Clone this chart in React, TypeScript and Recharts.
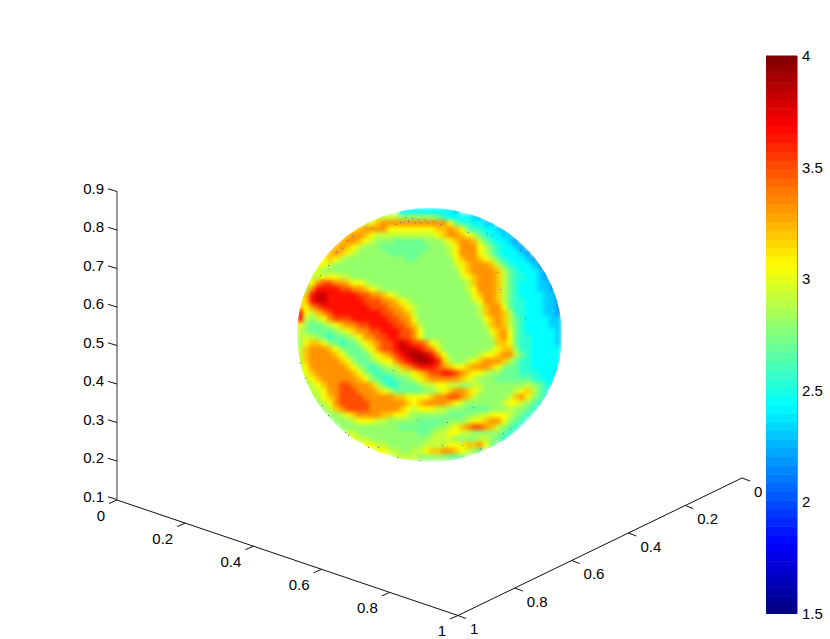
import { ComposedChart, ReferenceArea, ReferenceLine, Scatter, XAxis, YAxis } from "recharts";

const FONT = "'Liberation Sans', Arial, sans-serif";
const W = 830;
const H = 639;

// axis ticks
const xTicks = [0, 0.2, 0.4, 0.6, 0.8, 1];
const yTicks = [0, 0.2, 0.4, 0.6, 0.8, 1];
const zTicks = [0.1, 0.2, 0.3, 0.4, 0.5, 0.6, 0.7, 0.8, 0.9];
const barTicks = [1.5, 2, 2.5, 3, 3.5, 4];

// colour value of each code used in the sphere rows
const codes = "0123456789abcde";
const codeValues = [2.05, 2.2, 2.32, 2.44, 2.55, 2.7, 2.8, 2.92, 3.05, 3.2, 3.33, 3.5, 3.65, 3.8, 3.9];

const sphereRows = [
  ".................3333333332",
  ".............777766666654333322",
  "...........789aaaaaaaaaaa85" + "443322",
  ".........89aaaa" + "88888888" + "99a9" + "85443322",
  "........9aa987" + "777777777" + "89aa987" + "543322",
  ".......9aa987" + "666" + "55555" + "666" + "789aa975" + "43321",
  "......9a987666" + "55555555" + "666" + "78aaa875" + "43321",
  ".....9a987" + "66666" + "555555" + "6666" + "78aaa875" + "433321",
  "....8987" + "6666666666" + "55" + "666666" + "89aa9875" + "433321",
  "...887" + "66666666666666666666" + "789aaa975" + "433321",
  "..87" + "66666666666666666666666" + "89aaaa975" + "433321",
  "..7788877" + "666666666666666666" + "789aaa975" + "443321",
  ".78abbaa9887" + "6666666666666666" + "79aaa975" + "4333221",
  ".7accccbbaa987" + "66666666666666" + "78aaa975" + "4333221",
  "79cddcccccbbaa987" + "666666666666" + "89aa975" + "43333221",
  "89cddccccccbbbaa987" + "6666666666" + "78aa975" + "44333221",
  "98abccccccccbbbaa987" + "6666666666" + "79aa85" + "44333221",
  "c879abccccccccbbaa97" + "6666666666" + "79aa97" + "44333221",
  "c7678abbbccccccbbaa8" + "66666666666" + "89a975" + "4333322",
  "86556789aabbccccbba97" + "6666666666" + "79a975" + "4333322",
  "7655556789aabbcccbba8" + "66666666666" + "89a85" + "4333332",
  "77765455678aabbccbba8" + "66666666666" + "79a85" + "4433332",
  "6899865455" + "789abbcdcbba87" + "666666666" + "9985" + "4433332",
  "79aaa986555" + "78abbcdddcba8" + "66666666" + "7899644" + "33333",
  "79aaaa986555" + "789abcdeedca8" + "66666" + "7889aa754" + "33333",
  "79aaaaa9865" + "56788" + "abcdeedc" + "976678" + "9aaa97" + "544" + "33333",
  "78aaaaaa98" + "6545677" + "9abcccba9" + "889aaa98" + "65544" + "33333",
  "689aaaaaa9" + "8654556778" + "9abbccba98" + "8766555444" + "3332",
  ".789aaaaaa9" + "8654455678" + "9aaaaa9876" + "6655555544" + "33",
  ".6789aabbaa" + "a975445556" + "7788776677" + "6666666" + "76543",
  "..778aabbbaa" + "a98755555" + "66789aa987" + "66666" + "789754",
  "..6789abbbba" + "aaaa998888" + "9aabba97" + "66666" + "79a8654",
  "...678abbbbbaaaaaa989" + "aaaa" + "987" + "666666" + "7887654",
  "....679abbbbaaaaa98" + "7888" + "77666" + "5555" + "666" + "76654",
  ".....66789aaaa99887" + "666666" + "555" + "66" + "77888" + "7654",
  "......666788877" + "66666" + "55555" + "666" + "7889aa" + "8654",
  ".......6666666666" + "555555" + "66789abba97654",
  "........776666666666" + "55" + "6" + "778877" + "66666" + "54",
  ".........877" + "6666666666" + "7777" + "6666" + "77654",
  "...........8877" + "666666" + "7777" + "888" + "99a85",
  ".............887766" + "77899aa98765",
  "................777766666555",
];

// small dark specks scattered over the surface
const speckX = [405, 412, 418, 425, 420, 428, 415, 408, 400, 395, 347, 342, 336, 328, 320, 300, 305, 322, 328, 345, 348, 368, 378, 397, 420, 442, 447, 462, 473, 503, 510, 480, 468, 487, 492, 520, 540, 497, 500, 525, 347, 360, 393, 417, 433, 440, 352, 372];
const speckY = [217, 218, 219, 220, 222, 222, 222, 221, 222, 224, 240, 248, 252, 265, 275, 363, 378, 405, 415, 432, 435, 447, 447, 457, 460, 445, 422, 445, 407, 433, 428, 448, 232, 233, 235, 250, 268, 272, 289, 318, 388, 412, 370, 420, 221, 224, 236, 228];
const specks = speckX.map((px, i) => ({ px, py: speckY[i] }));

// where the data lands on the page
const CELL = 6;
const gridLeft = 300;
const gridTop = 211;
const spherePoints = sphereRows.flatMap((row, r) =>
  row.split("").flatMap((ch, c) =>
    ch === "." ? [] : [{ px: gridLeft + c * CELL, py: gridTop + r * CELL, value: codeValues[codes.indexOf(ch)] }]
  )
);

// box edges of the 3d axes, as drawn on the page
const xEdge = { from: [117, 500], to: [458, 615.5], tick: [-8, 3.5], label: [-12, 15], anchor: "end" };
const yEdge = { from: [742, 478], to: [458, 615.5], tick: [8, 3], label: [12, 13], anchor: "start" };
const zEdge = { from: [117, 499.5], to: [117, 191.5], tick: [-9, -2.7], label: [-13, -3.5], anchor: "end" };

function jet(v: number) {
  const t = (v - 1.5) / 2.5;
  const ch = (d: number) => Math.round(255 * Math.max(0, Math.min(1, 1.5 - Math.abs(4 * t - d))));
  return `rgb(${ch(3)},${ch(2)},${ch(1)})`;
}

function axisParts(edge: typeof xEdge, ticks: number[], lo: number, hi: number) {
  return ticks.map((t) => {
    const f = (t - lo) / (hi - lo);
    const px = edge.from[0] + (edge.to[0] - edge.from[0]) * f;
    const py = edge.from[1] + (edge.to[1] - edge.from[1]) * f;
    return {
      px,
      py,
      tx: px + edge.tick[0],
      ty: py + edge.tick[1],
      lx: px + edge.label[0],
      ly: py + edge.label[1],
      text: String(t),
      anchor: edge.anchor,
    };
  });
}

const axes = [
  { edge: xEdge, parts: axisParts(xEdge, xTicks, 0, 1) },
  { edge: yEdge, parts: axisParts(yEdge, yTicks, 0, 1) },
  { edge: zEdge, parts: axisParts(zEdge, zTicks, 0.1, 0.9) },
];
const tickLabels = axes.flatMap((a) =>
  a.parts.map((p) => ({ px: p.lx, py: p.ly, text: p.text, anchor: p.anchor }))
);

const Cell = ({ cx, cy, value }: any) => (
  <rect x={cx - CELL / 2} y={cy - CELL / 2} width={CELL + 0.5} height={CELL + 0.5} fill={jet(value)} />
);

const Speck = ({ cx, cy }: any) => <rect x={cx} y={cy} width={1} height={1} fill="#3c5a96" fillOpacity={0.8} />;

const TickText = ({ cx, cy, text, anchor }: any) => (
  <text x={cx} y={cy} textAnchor={anchor} dominantBaseline="central" fontSize={15} fontFamily={FONT} fill="#000">
    {text}
  </text>
);

// jet colorbar with 64 steps
const STEPS = 64;
const BAR_W = 31;
const BAR_H = 557.5;
const barBands = Array.from({ length: STEPS }, (_, i) => {
  const mid = 1.5 + (2.5 * (i + 0.5)) / STEPS;
  return { bx: 0.5, by: mid, color: jet(mid) };
});

const Band = ({ cx, cy, color }: any) => (
  <rect x={cx - BAR_W / 2} y={cy - BAR_H / STEPS / 2} width={BAR_W} height={BAR_H / STEPS + 0.5} fill={color} />
);

function ColorBar() {
  return (
    <div style={{ position: "absolute", left: 766, top: 40, width: 64, height: 590 }}>
      <ComposedChart width={64} height={590} margin={{ top: 16, bottom: 16.5, left: 0, right: 0 }}>
        <XAxis hide type="number" dataKey="bx" domain={[0, 1]} />
        <YAxis
          orientation="right"
          type="number"
          dataKey="by"
          domain={[1.5, 4]}
          ticks={barTicks}
          interval={0}
          width={33}
          axisLine={false}
          tickLine={false}
          tickSize={0}
          tickMargin={5}
          tickFormatter={(v) => String(v)}
          tick={{ fontSize: 15, fontFamily: FONT, fill: "#000", textAnchor: "start" }}
        />
        <Scatter data={barBands} shape={Band} isAnimationActive={false} />
        {barTicks.slice(1, -1).map((t) => (
          <ReferenceLine key={`l${t}`} segment={[{ x: 0, y: t }, { x: 0.17, y: t }]} stroke="#222" />
        ))}
        {barTicks.slice(1, -1).map((t) => (
          <ReferenceLine key={`r${t}`} segment={[{ x: 0.83, y: t }, { x: 1, y: t }]} stroke="#222" />
        ))}
        <ReferenceArea x1={0} x2={1} y1={1.5} y2={4} fill="none" stroke="#222" />
      </ComposedChart>
    </div>
  );
}

export default function App() {
  return (
    <div style={{ position: "relative", width: W, height: H, overflow: "hidden", background: "#fff" }}>
      <style>{`
        body { margin: 0; }
        .ball { filter: blur(2px); clip-path: url(#ballClip); }
      `}</style>
      <svg width={0} height={0} style={{ position: "absolute" }}>
        <defs>
          <clipPath id="ballClip">
            <ellipse cx={429.5} cy={335} rx={132.5} ry={127} />
          </clipPath>
        </defs>
      </svg>
      <ComposedChart width={W} height={H} margin={{ top: 0, right: 0, bottom: 0, left: 0 }}>
        <XAxis hide type="number" dataKey="px" domain={[0, W]} />
        <YAxis hide type="number" dataKey="py" domain={[0, H]} reversed />
        <Scatter className="ball" data={spherePoints} shape={Cell} isAnimationActive={false} />
        <Scatter data={specks} shape={Speck} isAnimationActive={false} />
        {axes.map((a, i) => (
          <ReferenceLine
            key={i}
            segment={[
              { x: a.edge.from[0], y: a.edge.from[1] },
              { x: a.edge.to[0], y: a.edge.to[1] },
            ]}
            stroke={i === 2 ? "#333" : "#111"}
          />
        ))}
        {axes.flatMap((a, i) =>
          a.parts.map((p, j) => (
            <ReferenceLine
              key={`${i}-${j}`}
              segment={[
                { x: p.px, y: p.py },
                { x: p.tx, y: p.ty },
              ]}
              stroke="#111"
            />
          ))
        )}
        <Scatter data={tickLabels} shape={TickText} isAnimationActive={false} />
      </ComposedChart>
      <ColorBar />
    </div>
  );
}
